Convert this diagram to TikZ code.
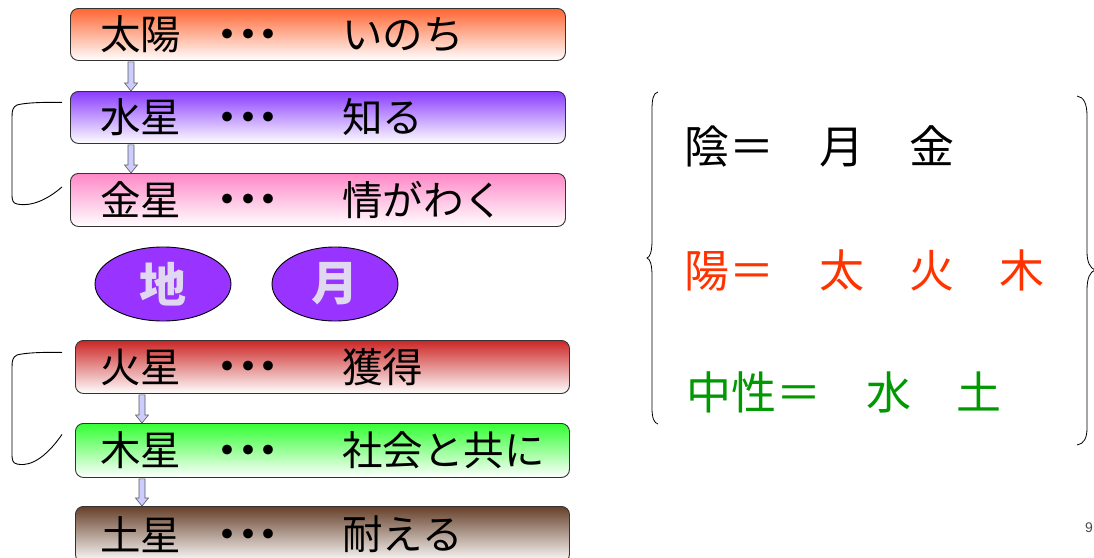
\documentclass[tikz,border=0pt]{standalone}
\usepackage{fontspec}
\setmainfont{Noto Sans CJK JP}
\newfontfamily\pgfont{Liberation Sans}
\usetikzlibrary{shapes.geometric,calc}
\definecolor{cSun}{HTML}{FF6633}
\definecolor{cMerc}{HTML}{8A3CFF}
\definecolor{cVen}{HTML}{FF88C8}
\definecolor{cMars}{HTML}{CC2626}
\definecolor{cJup}{HTML}{33FF33}
\definecolor{cSat}{HTML}{66402A}
\definecolor{cOval}{HTML}{9933FF}
\definecolor{cOvalTxt}{HTML}{E0D8F0}
\definecolor{cYang}{HTML}{FF3300}
\definecolor{cNeu}{HTML}{009900}
\definecolor{cArr}{HTML}{CCCCFF}
\newcommand{\dotchar}{\makebox[20.5pt]{\raisebox{-17pt}[0pt][0pt]{\fontsize{46}{46}\selectfont ・}}}
\tikzset{
  planetbox/.style={draw=black!80, line width=0.9pt, rounded corners=8pt, rectangle, anchor=north west, minimum height=#1, inner sep=0pt, bottom color=white},
  boxtxt/.style={anchor=west, inner sep=0pt, font=\fontsize{40.5}{44}\selectfont},
  oval/.style={ellipse, draw=black, line width=0.9pt, fill=cOval, minimum width=136pt, minimum height=74pt, text=cOvalTxt, font=\fontsize{47}{50}\selectfont\bfseries},
  hollowarrow/.style={draw=black!65, fill=cArr, line width=0.6pt},
  sidebracket/.style={draw=black, line width=0.9pt},
  bracetxt/.style={anchor=west, inner sep=0pt, font=\fontsize{45}{50}\selectfont},
}
\begin{document}
\begin{tikzpicture}[x=1pt,y=-1pt]
\clip (0,0) rectangle (1094,557);
\fill[white] (0,0) rectangle (1094,557);
% column guides
\coordinate (cL) at (100,0);
\coordinate (cD) at (248,0);
\coordinate (cR) at (342,0);
% boxes
\node[planetbox=52pt, minimum width=495pt, top color=cSun] (b1) at (70,8) {};
\node[planetbox=52pt, minimum width=495pt, top color=cMerc] (b2) at (70,91) {};
\node[planetbox=53pt, minimum width=495pt, top color=cVen] (b3) at (70,173) {};
\node[planetbox=53pt, minimum width=494pt, top color=cMars] (b4) at (75,340) {};
\node[planetbox=54pt, minimum width=494pt, top color=cJup] (b5) at (75,423) {};
\node[planetbox=56pt, minimum width=494pt, top color=cSat] (b6) at (75,506) {};
% box texts
\foreach \b/\l/\r in {b1/太陽/いのち, b2/水星/知る, b3/金星/情がわく, b4/火星/獲得, b5/木星/社会と共に, b6/土星/耐える}{
  \node[boxtxt] (\b l) at (\b.west -| cL) {\l};
  \node[boxtxt, anchor=center] (\b d) at (\b.west -| cD) {\dotchar\dotchar\dotchar};
  \node[boxtxt] (\b r) at (\b.west -| cR) {\r};
}
% ovals
\node[oval] (earth) at (163,284) {地};
\node[oval, minimum width=126pt] (moon) at (335,284) {月};
% arrows
\foreach \s/\t/\x in {b1/b2/131, b2/b3/131, b4/b5/142, b5/b6/142}{
  \coordinate (\s-a) at (\s.south -| \x,0);
  \draw[hollowarrow] let \p1=(\s-a), \p2=(\s-a |- \t.north) in
    (\x1-3pt,\y1-1pt) -- (\x1-3pt,\y2+8pt) -- (\x1-6.5pt,\y2+8pt) -- (\x1,\y2) --
    (\x1+6.5pt,\y2+8pt) -- (\x1+3pt,\y2+8pt) -- (\x1+3pt,\y1-1pt) -- cycle;
}
% side brackets
\draw[sidebracket] ([shift={(-8,-15)}]b2.west) .. controls (40,102) and (24,103) .. (17,105)
  .. controls (13,107) and (12,110) .. (12,117)
  -- (12,194) .. controls (12,201) and (13,203) .. (17,204)
  .. controls (24,205.5) and (40,206) .. ([shift={(-8,-13)}]b3.west);
\draw[sidebracket] ([shift={(-13,-14.5)}]b4.west) .. controls (40,352) and (24,353) .. (17,355)
  .. controls (13,357) and (12,360) .. (12,367)
  -- (12,454) .. controls (12,461) and (13,463) .. (17,464)
  .. controls (24,465.5) and (40,466) .. ([shift={(-13,-16)}]b5.west);
% right text
\node[bracetxt] (yin) at (684,146) {陰＝　月　金};
\node[bracetxt, text=cYang] (yang) at (684,270) {陽＝　太　火　木};
\node[bracetxt, text=cNeu] (neu) at (686,392) {中性＝　水　土};
% braces
\draw[sidebracket, line width=0.8pt] (658,92) .. controls (653,93) and (652,100) .. (652,110)
  -- (652,240) .. controls (652,252) and (650,257) .. (647,258)
  .. controls (650,259) and (652,264) .. (652,276)
  -- (652,408) .. controls (652,418) and (654,423) .. (658,424);
\draw[sidebracket, line width=0.8pt] (1077,96) .. controls (1084,97) and (1087,104) .. (1087,116)
  -- (1087,252) .. controls (1087,262) and (1090,268) .. (1095,270)
  .. controls (1090,272) and (1087,278) .. (1087,290)
  -- (1087,428) .. controls (1087,438) and (1084,444) .. (1077,445);
% page number
\node[anchor=west, inner sep=0pt, text=black!70, font=\pgfont\fontsize{14}{16}\selectfont] (pg) at (1085,528) {9};
\end{tikzpicture}
\end{document}
